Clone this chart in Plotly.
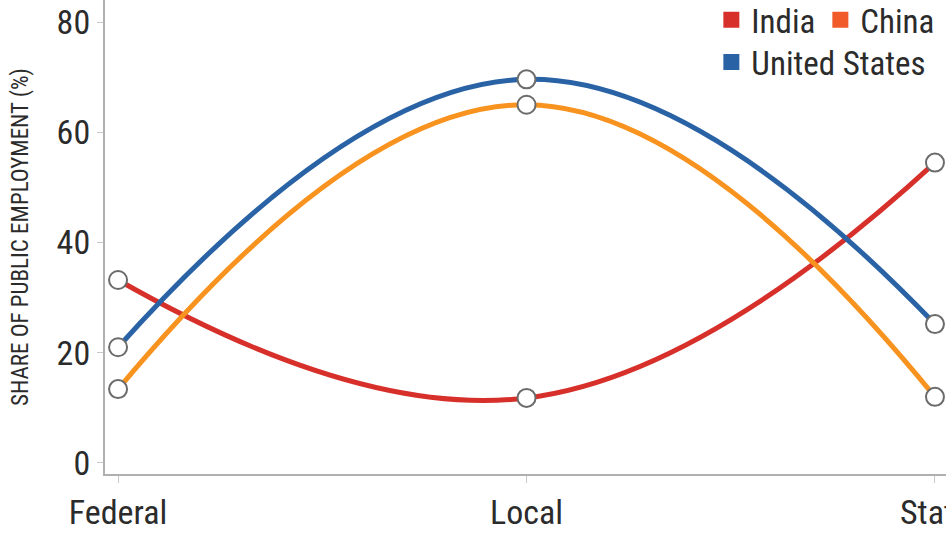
import plotly.graph_objects as go

categories = ["Federal", "Local", "State"]
x_pos = [0, 1, 2]
india = [33.2, 11.8, 54.5]
china = [13.4, 65.0, 12.0]
united_states = [21.0, 69.6, 25.2]
y_ticks = [0, 20, 40, 60, 80]

line_colors = {"India": "#d7302b", "China": "#f7931e", "United States": "#2a63a5"}
legend_colors = {"India": "#d7302b", "China": "#f15a29", "United States": "#2a63a5"}

FONT = "Liberation Sans Narrow, Roboto Condensed, DejaVu Sans Condensed, Roboto, sans-serif"

fig = go.Figure()
series = [("India", india), ("China", china), ("United States", united_states)]
for name, vals in series:
    fig.add_trace(go.Scatter(
        x=x_pos, y=vals, mode="lines", name=name, showlegend=False,
        line=dict(color=line_colors[name], width=5, shape="spline", smoothing=1.25),
        hoverinfo="skip"))
for name, vals in series:
    fig.add_trace(go.Scatter(
        x=x_pos, y=vals, mode="markers", showlegend=False,
        marker=dict(size=18, color="white", line=dict(color="#6b6b6b", width=2))))
for name, _ in series:
    fig.add_trace(go.Scatter(
        x=[None], y=[None], mode="markers", name=name,
        legend="legend2" if name == "United States" else "legend",
        marker=dict(symbol="square", size=18, color=legend_colors[name])))

fig.update_layout(
    width=946, height=542,
    margin=dict(l=105, r=0, t=0, b=68, autoexpand=False),
    paper_bgcolor="white", plot_bgcolor="white",
    font=dict(family=FONT, color="#2b2b2b"),
    legend=dict(orientation="h", x=0.721, xanchor="left", y=0.958, yanchor="middle",
                font=dict(size=33, color="#2b2b2b"), itemwidth=30,
                bgcolor="rgba(0,0,0,0)"),
    legend2=dict(orientation="h", x=0.721, xanchor="left", y=0.869, yanchor="middle",
                 font=dict(size=33, color="#2b2b2b"), itemwidth=30,
                 bgcolor="rgba(0,0,0,0)"),
)
fig.update_xaxes(
    range=[-0.032, 2.027], tickvals=x_pos, ticktext=categories,
    showgrid=False, zeroline=False, showline=True, linecolor="#b0b0b0", linewidth=2,
    ticks="outside", ticklen=7, tickcolor="#c8c8c8", tickwidth=1,
    tickfont=dict(size=34, color="#2b2b2b"), automargin=False,
    ticklabeloverflow="allow")
fig.update_yaxes(
    range=[-2, 84], tickvals=y_ticks,
    showgrid=False, zeroline=False, showline=True, linecolor="#b0b0b0", linewidth=2,
    ticks="outside", ticklen=6, tickcolor="#c8c8c8", tickwidth=1,
    tickfont=dict(size=34, color="#2b2b2b"), automargin=False,
    ticklabeloverflow="allow",
    title=dict(text="SHARE OF PUBLIC EMPLOYMENT (%)", font=dict(size=23, color="#2b2b2b"), standoff=22))

fig.write_html(
    "out.html",
    config={"displayModeBar": False},
    post_script="document.body.style.margin='0';document.body.style.overflow='hidden';")
